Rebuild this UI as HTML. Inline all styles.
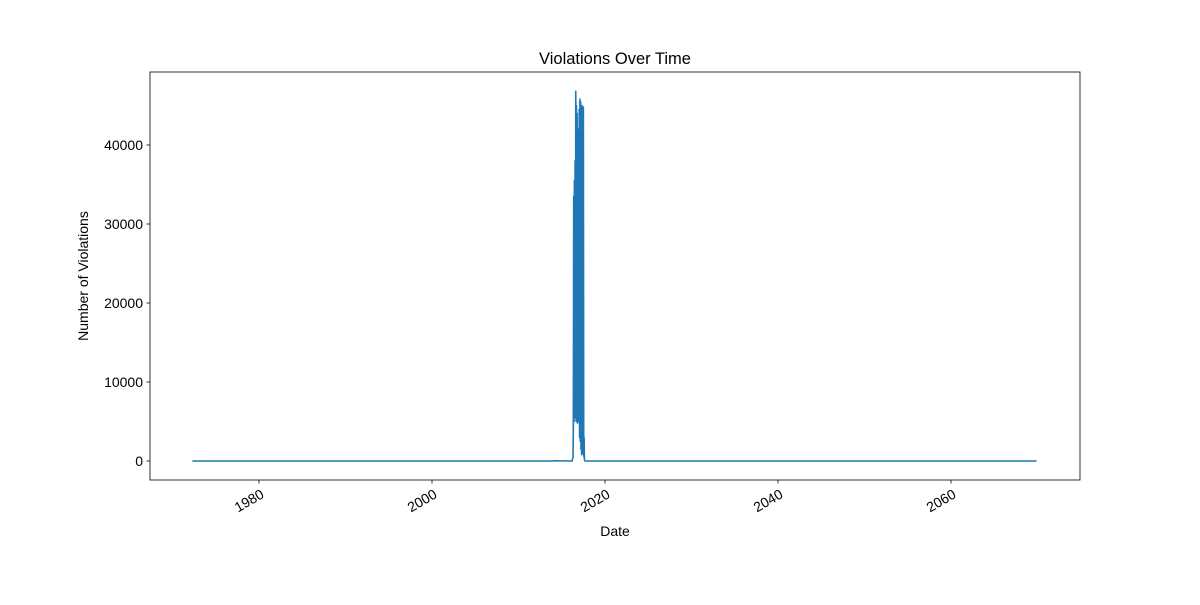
<!DOCTYPE html>
<html><head><meta charset="utf-8"><style>
body{margin:0;background:#fff}
text{font-family:"Liberation Sans","DejaVu Sans",sans-serif;fill:#000}
</style></head><body>
<svg id="chart" width="1200" height="600" xmlns="http://www.w3.org/2000/svg">
<rect width="1200" height="600" fill="#fff"/>
<g id="plot"></g>
</svg>
<script>
const xTicks=[1980,2000,2020,2040,2060];
const yTicks=[0,10000,20000,30000,40000];
const flatDates=[1972.3,2013.9,2014.2,2016.2];
const flatValues=[0,0,30,0];
const spikeDates=[2016.30,2016.34,2016.38,2016.42,2016.46,2016.50,2016.54,2016.58,2016.62,2016.66,2016.70,2016.74,2016.78,2016.82,2016.86,2016.90,2016.94,2016.98,2017.02,2017.06,2017.10,2017.14,2017.18,2017.22,2017.26,2017.30,2017.34,2017.38,2017.42,2017.46,2017.50,2017.54,2017.58,2017.62,2017.66,2017.70];
const spikeValues=[500,4000,33500,5000,35500,6000,38000,5500,46800,5000,45000,5500,44000,4800,42000,5000,41000,6000,44500,3000,45800,2500,45500,1500,44000,800,45000,1000,44500,900,44800,600,3000,200,50,0];
const tailDates=[2017.7,2069.9];
const tailValues=[0,0];

const L=150,R=1080,T=72,B=480;
function xs(y){return 605+(y-2020)*8.65;}
function ys(v){return 461-v*0.0079;}
const g=document.getElementById('plot');
const NS='http://www.w3.org/2000/svg';
function mk(t,a){const e=document.createElementNS(NS,t);for(const k in a)e.setAttribute(k,a[k]);g.appendChild(e);return e;}

let pts=[];
flatDates.forEach((d,i)=>pts.push(xs(d).toFixed(2)+','+ys(flatValues[i]).toFixed(2)));
spikeDates.forEach((d,i)=>pts.push(xs(d).toFixed(2)+','+ys(spikeValues[i]).toFixed(2)));
tailDates.forEach((d,i)=>pts.push(xs(d).toFixed(2)+','+ys(tailValues[i]).toFixed(2)));
const line=mk('polyline',{points:pts.join(' '),fill:'none',stroke:'#1f77b4','stroke-width':1.6,'stroke-linejoin':'round'});



const frame=mk('rect',{x:L,y:T,width:R-L,height:B-T,fill:'none',stroke:'#000','stroke-width':0.8});



xTicks.forEach(t=>{
  const x=xs(t);
  const tk=mk('line',{x1:x,x2:x,y1:B,y2:B+3.5,stroke:'#000','stroke-width':0.8});
  
  
  const ax=x+6,ay=B+17;
  const tx=mk('text',{x:ax,y:ay,'font-size':14,'text-anchor':'end',transform:`rotate(-30 ${ax} ${ay})`});
  tx.textContent=t;
  
  
});
yTicks.forEach(t=>{
  const y=ys(t);
  const tk=mk('line',{x1:L-3.5,x2:L,y1:y,y2:y,stroke:'#000','stroke-width':0.8});
  
  
  const tx=mk('text',{x:L-7,y:y+5,'font-size':14,'text-anchor':'end'});
  tx.textContent=t;
  
  
});
const title=mk('text',{x:615,y:64,'font-size':16.5,'text-anchor':'middle'});
title.textContent='Violations Over Time';


const xl=mk('text',{x:615,y:536,'font-size':14,'text-anchor':'middle'});
xl.textContent='Date';


const yl=mk('text',{x:88,y:276,'font-size':14,'text-anchor':'middle',transform:'rotate(-90 88 276)'});
yl.textContent='Number of Violations';


</script>
</body></html>
